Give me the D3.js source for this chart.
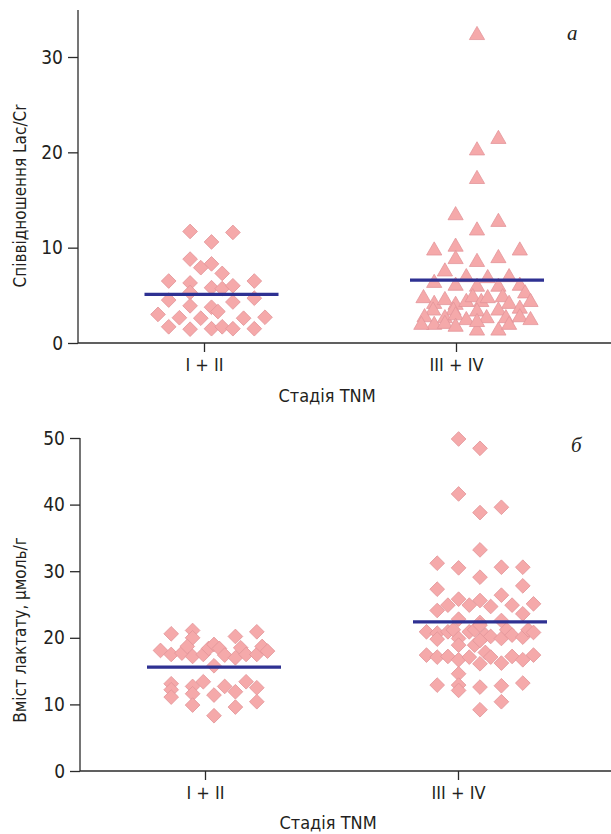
<!DOCTYPE html>
<html><head><meta charset="utf-8">
<script src="https://cdn.jsdelivr.net/npm/d3@7"></script>
<style>
html,body{margin:0;padding:0;background:#fff;}
svg{display:block;}
text{font-family:"Liberation Sans Narrow","DejaVu Sans Condensed","Liberation Sans",sans-serif;fill:#231f20;}
</style></head><body>
<svg id="chart" width="611" height="834"></svg>
<script>
// ---------- DATA ----------
const categories = ["I + II", "III + IV"];
const xTitle = "Стадія TNM";

// Panel a: Lac/Cr ratio  [value, jitter column]
const lacCrEarly = [[11.7,-2],[11.6,2],[10.6,0],[8.8,-2],[8.3,0],[7.9,-1],[7.3,1],[6.5,-4],[6.3,-2],[6.5,4],
  [5.8,0],[5.7,1],[6.0,2],[5.3,-2],[4.5,-4],[4.3,2],[4.7,4],[3.9,-2],[3.75,0],[3.3,0.6],[3.0,-5],[2.65,-3],
  [2.6,-1],[2.6,3],[2.7,5],[1.7,-4],[1.45,-2],[1.5,0],[1.7,1],[1.5,2],[1.5,4]];
const lacCrLate = [[32.5,0],[21.6,2],[20.4,0],[17.4,0],[13.6,-2],[12.9,2],[12.0,0],[9.9,-4],[10.3,-2],[9.9,4],
  [9.0,-2],[8.7,0],[9.1,2],[7.7,-3],[7.1,-1],[7.0,1],[7.1,3],[6.5,-4],[6.2,-2],[6.1,0],[6.1,2],[6.2,4],[5.4,4.5],
  [4.9,-5],[4.3,-4],[4.7,-3],[4.2,-2],[4.5,-1],[5.0,-0.4],[4.5,0.4],[4.9,1],[5.0,2.4],[4.3,3],[4.5,5],[3.8,4],
  [3.6,-4.1],[3.6,-2.2],[3.5,0],[3.6,2],[2.9,-4.9],[2.8,-3],[3.1,-2],[2.6,-1],[2.8,0.9],[2.8,2.7],[2.9,4],[2.6,5],
  [2.1,-4],[2.2,-3],[1.9,-2],[1.5,0],[1.5,2],[2.1,3],[2.4,0],[2.1,-5.2]];
const lacCrMeans = [5.1, 6.6];
const lacCrTicks = [0, 10, 20, 30];

// Panel б: lactate content, µmol/g  [value, jitter column]
const lactEarly = [[20.6,-4],[21.1,-2],[20.0,-2],[20.2,2],[20.9,4],[18.1,-5],[17.5,-4],[17.7,-3],[18.7,-2.5],
  [17.2,-2],[17.5,-1],[18.4,-0.5],[19.0,0],[18.4,0.5],[17.4,1],[17.0,2],[18.5,2.5],[17.5,3],[17.5,4],[18.7,4.5],
  [18.0,5],[15.8,0],[13.1,-4],[12.2,-4],[11.1,-4],[12.7,-2],[11.6,-2],[13.4,-1],[12.7,1],[11.4,0],[11.9,2],
  [13.4,3],[12.5,4],[9.9,-2],[9.6,2],[10.4,4],[8.3,0]];
const lactLate = [[49.85,-2],[48.45,0],[41.6,-2],[38.8,0],[39.6,2],[33.2,0],[31.2,-4],[30.5,-2],[30.6,2],[30.6,4],
  [29.1,0],[27.3,-4],[27.8,4],[25.8,-2],[24.9,-3],[24.1,-4],[24.9,-1],[25.6,0],[24.7,1],[26.4,2],[24.9,3],[23.6,4],
  [25.1,5],[22.8,-2],[22.3,0],[22.6,2],[20.9,-5],[20.7,-4],[19.8,-4],[20.9,-3],[21.2,-2.5],[19.9,-2],[18.9,-2],
  [20.9,-1],[21.2,-0.5],[21.9,0],[20.4,0.5],[20.2,1],[19.9,2],[21.2,2.5],[20.4,3],[20.1,4],[21.2,4.5],[20.8,5],
  [18.9,-0.5],[19.6,0],[17.4,-5],[17.1,-4],[17.2,-3],[16.7,-2],[17.1,-1],[16.1,0],[17.8,0.5],[17.1,1],[16.2,2],
  [17.2,3],[16.7,4],[17.4,5],[14.6,-2],[12.9,-4],[12.9,-2],[12.1,-2],[12.6,0],[12.8,2],[13.2,4],[10.4,2],[9.2,0]];
const lactMeans = [15.6, 22.4];
const lactTicks = [0, 10, 20, 30, 40, 50];

// ---------- STYLE / LAYOUT ----------
const fillCol = "#f5a9aa", strokeCol = "#e3969a", meanCol = "#2e3192", axisCol = "#2b2b2b";
const svg = d3.select("#chart");

function panel(cfg) {
  const g = svg.append("g");
  const y = d3.scaleLinear().domain(cfg.yDomain).range([cfg.y0, cfg.yTop]);
  const x = d3.scalePoint().domain(categories).range(cfg.xTicks);
  const colStep = 10.7;
  const px = (ci, j) => x(categories[ci]) + cfg.groupOffset[ci] + j * colStep;

  // y axis
  const yAxis = d3.axisLeft(y).tickValues(cfg.yTicks).tickSize(10).tickPadding(5).tickSizeOuter(0);
  const ya = g.append("g").attr("transform", `translate(${cfg.xAxis0},0)`).call(yAxis);
  ya.select(".domain").remove();
  ya.selectAll(".tick line").attr("stroke", axisCol).attr("stroke-width", 1.3);
  ya.selectAll(".tick text").style("font-size", "19px").attr("fill", "#231f20");
  g.append("line").attr("x1", cfg.xAxis0).attr("x2", cfg.xAxis0)
    .attr("y1", y(0)).attr("y2", cfg.yAxisTop).attr("stroke", axisCol).attr("stroke-width", 1.3);

  // x axis
  const xAxis = d3.axisBottom(x).tickSize(9).tickPadding(6).tickSizeOuter(0);
  const xa = g.append("g").attr("transform", `translate(0,${y(0)})`).call(xAxis);
  xa.select(".domain").remove();
  xa.selectAll(".tick line").attr("stroke", axisCol).attr("stroke-width", 1.3);
  xa.selectAll(".tick text").style("font-size", "18px").attr("fill", "#231f20");
  g.append("line").attr("x1", cfg.xAxis0).attr("x2", 611)
    .attr("y1", y(0)).attr("y2", y(0)).attr("stroke", axisCol).attr("stroke-width", 1.3);

  // titles
  g.append("text").attr("x", cfg.xTitleX).attr("y", cfg.xTitleY).attr("text-anchor", "middle")
    .style("font-size", "18px").text(xTitle);
  g.append("text").attr("transform", `translate(${cfg.yTitleX},${cfg.yTitleY}) rotate(-90)`)
    .attr("text-anchor", "middle").style("font-size", "17px").text(cfg.yTitle);
  g.append("text").attr("x", cfg.letterX).attr("y", cfg.letterY).style("font-size", "21px")
    .style("font-style", "italic").style("font-family", "'Liberation Serif','DejaVu Serif',serif").text(cfg.letter);

  // points
  const tri = d3.symbol().type(d3.symbolTriangle).size(100);
  const dia = d3.symbol().type(d3.symbolSquare).size(108);
  const triShift = 2; // centre triangle on its bounding box rather than its centroid
  cfg.groups.forEach((arr, ci) => {
    const isTri = cfg.shapes[ci] === "triangle";
    g.append("g").selectAll("path").data(arr).join("path")
      .attr("d", isTri ? tri : dia)
      .attr("transform", d => isTri
        ? `translate(${px(ci, d[1])},${y(d[0]) + triShift})`
        : `translate(${px(ci, d[1])},${y(d[0])}) rotate(45)`)
      .attr("fill", fillCol).attr("stroke", strokeCol).attr("stroke-width", 0.8);
  });
  // mean lines
  g.append("g").selectAll("line").data(cfg.means).join("line")
    .attr("x1", (d, i) => px(i, 0) - 67).attr("x2", (d, i) => px(i, 0) + 67)
    .attr("y1", d => y(d)).attr("y2", d => y(d))
    .attr("stroke", meanCol).attr("stroke-width", 3.2);
}

panel({
  yDomain: [0, 30], y0: 343, yTop: 57, yAxisTop: 10, yTicks: lacCrTicks,
  xAxis0: 78, xTicks: [204, 456], groupOffset: [7.5, 21],
  xTitleX: 327, xTitleY: 402, yTitleX: 26, yTitleY: 196, yTitle: "Співвідношення Lac/Cr",
  letter: "а", letterX: 567, letterY: 40, shapes: ["diamond", "triangle"],
  groups: [lacCrEarly, lacCrLate], means: lacCrMeans
});
panel({
  yDomain: [0, 50], y0: 771, yTop: 438, yAxisTop: 438, yTicks: lactTicks,
  xAxis0: 80, xTicks: [205, 458], groupOffset: [9, 22],
  xTitleX: 328, xTitleY: 829, yTitleX: 26, yTitleY: 630, yTitle: "Вміст лактату, µмоль/г",
  letter: "б", letterX: 571, letterY: 452, shapes: ["diamond", "diamond"],
  groups: [lactEarly, lactLate], means: lactMeans
});
</script>
</body></html>
